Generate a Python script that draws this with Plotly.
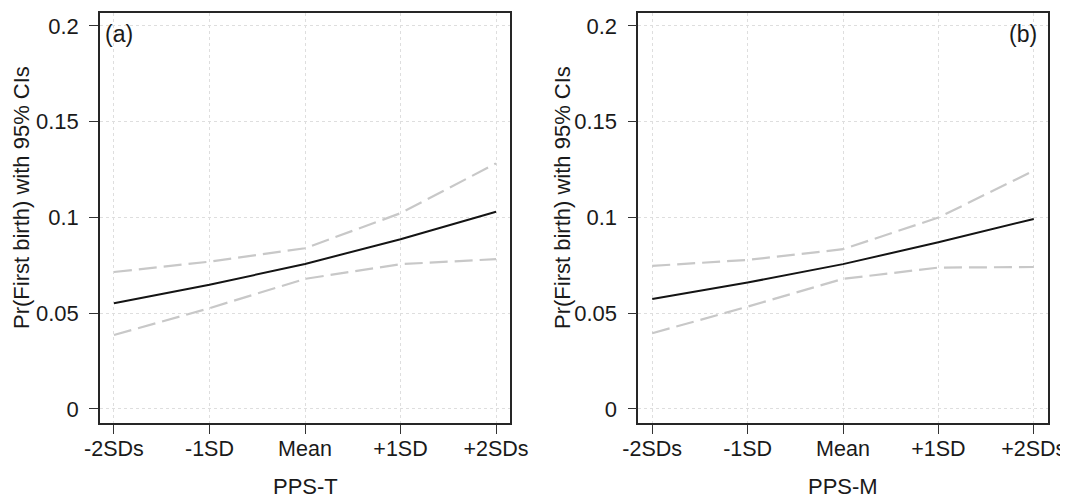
import plotly.graph_objects as go

categories = ["-2SDs", "-1SD", "Mean", "+1SD", "+2SDs"]
xpos = [0, 1, 2, 3, 4]

# Panel (a): PPS-T
a_mean = [0.0552, 0.0648, 0.0757, 0.0886, 0.1030]
a_upper = [0.0715, 0.0769, 0.0839, 0.1022, 0.1282]
a_lower = [0.0386, 0.0526, 0.0679, 0.0756, 0.0782]

# Panel (b): PPS-M
b_mean = [0.0574, 0.0660, 0.0756, 0.0870, 0.0992]
b_upper = [0.0747, 0.0778, 0.0834, 0.0999, 0.1244]
b_lower = [0.0395, 0.0534, 0.0679, 0.0738, 0.0741]

ytick_vals = [0, 0.05, 0.1, 0.15, 0.2]
ytick_text = ["0", "0.05", "0.1", "0.15", "0.2"]

# page body has an 8px margin; figure sized so it fills the 1068x499 window
OFF = 8
W, H = 1068 - OFF, 499 - OFF
FONT = "Liberation Sans, Arial, Helvetica, sans-serif"
FS = 22
TXT = "#1a1a1a"


def px(x):
    return (x - OFF) / W


def py(y):
    return 1 - (y - OFF) / H


fig = go.Figure()

ci_style = dict(color="#c8c8c8", width=2.2, dash="18px,7px")
mean_style = dict(color="#141414", width=2)

for (m, u, l, xa, ya) in [(a_mean, a_upper, a_lower, "x", "y"),
                          (b_mean, b_upper, b_lower, "x2", "y2")]:
    fig.add_trace(go.Scatter(x=xpos, y=u, mode="lines", line=ci_style,
                             xaxis=xa, yaxis=ya, showlegend=False))
    fig.add_trace(go.Scatter(x=xpos, y=l, mode="lines", line=ci_style,
                             xaxis=xa, yaxis=ya, showlegend=False))
    fig.add_trace(go.Scatter(x=xpos, y=m, mode="lines", line=mean_style,
                             xaxis=xa, yaxis=ya, showlegend=False))

ydom = [py(422.7), py(12.7)]
xdom1 = [px(100), px(510)]
xdom2 = [px(638.3), px(1047.7)]

common_x = dict(
    range=[-0.146, 4.146], tickvals=xpos, ticktext=categories,
    showline=True, mirror=True, linecolor="#262626", linewidth=1.6,
    ticks="outside", ticklen=9, tickwidth=1.2, tickcolor="#333333",
    showgrid=True, gridcolor="#dedede", griddash="dot", gridwidth=1,
    zeroline=False, tickfont=dict(family=FONT, size=21.5, color=TXT),
    ticklabelstandoff=-3, automargin=False,
)
common_y = dict(
    range=[-0.0072, 0.2069], tickvals=ytick_vals, ticktext=ytick_text,
    showline=True, mirror=True, linecolor="#262626", linewidth=1.6,
    ticks="outside", ticklen=9, tickwidth=1.2, tickcolor="#333333",
    showgrid=True, gridcolor="#dedede", griddash="dot", gridwidth=1,
    zeroline=False, tickfont=dict(family=FONT, size=FS, color=TXT),
    ticklabelstandoff=6, automargin=False,
)


def ann(text, x, y, **kw):
    d = dict(text=text, xref="paper", yref="paper", x=px(x), y=py(y),
             showarrow=False, font=dict(family=FONT, size=FS, color=TXT))
    d.update(kw)
    return d


fig.update_layout(
    width=W, height=H,
    margin=dict(l=0, r=0, t=0, b=0, autoexpand=False),
    paper_bgcolor="white", plot_bgcolor="white",
    xaxis=dict(domain=xdom1, anchor="y", **common_x),
    yaxis=dict(domain=ydom, anchor="x", **common_y),
    xaxis2=dict(domain=xdom2, anchor="y2", **common_x),
    yaxis2=dict(domain=ydom, anchor="x2", **common_y),
    annotations=[
        ann("(a)", 103, 19, xanchor="left", yanchor="top",
            font=dict(family=FONT, size=FS + 1, color=TXT)),
        ann("(b)", 1039, 19, xanchor="right", yanchor="top",
            font=dict(family=FONT, size=FS + 1, color=TXT)),
        ann("PPS-T", 305, 486, xanchor="center", yanchor="middle"),
        ann("PPS-M", 843, 486, xanchor="center", yanchor="middle"),
        ann("Pr(First birth) with 95% CIs", 22, 198, xanchor="center",
            yanchor="middle", textangle=-90),
        ann("Pr(First birth) with 95% CIs", 563, 198, xanchor="center",
            yanchor="middle", textangle=-90),
    ],
)

fig.write_html("out.html")
